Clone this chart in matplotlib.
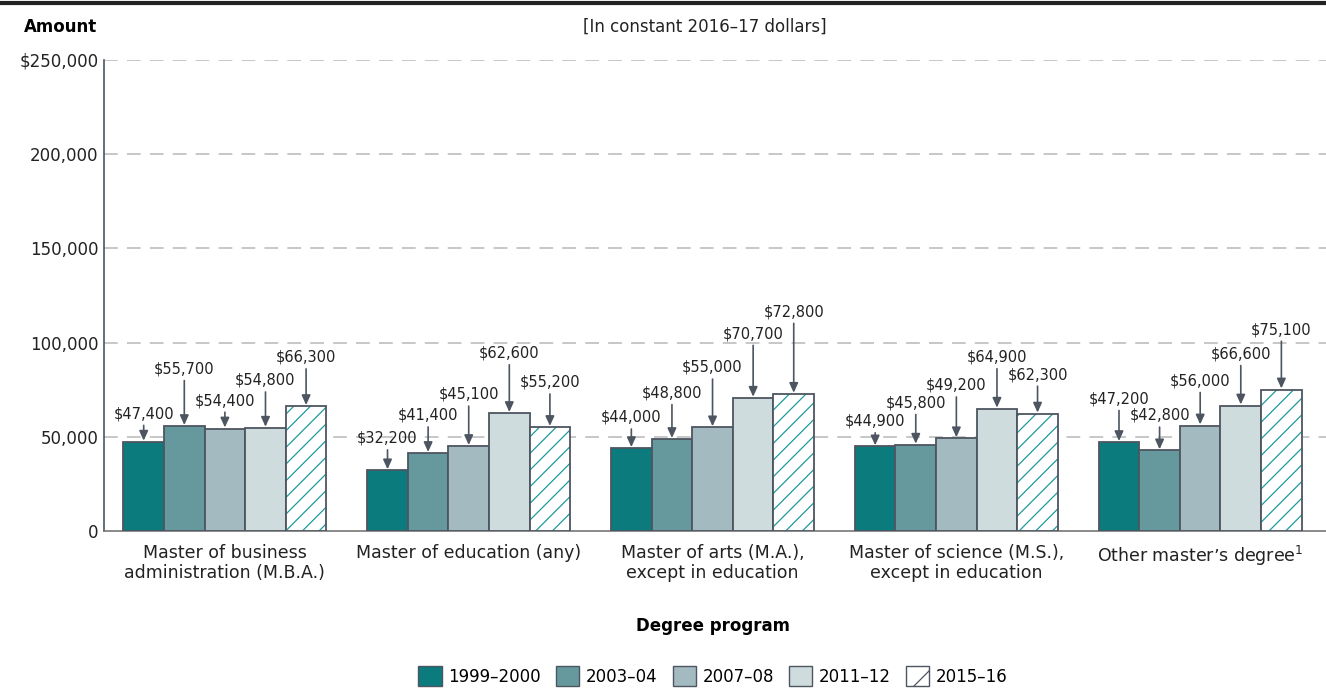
#!/usr/bin/env python3

import numpy
import matplotlib
matplotlib.use("Agg")
import matplotlib.pyplot as plt
from matplotlib.patches import Patch

#-------------------------------------------------------------
# data
programs = ["Master of business\nadministration (M.B.A.)",
            "Master of education (any)",
            "Master of arts (M.A.),\nexcept in education",
            "Master of science (M.S.),\nexcept in education",
            "Other master\u2019s degree$^{1}$"]
years = ["1999\u20132000", "2003\u201304", "2007\u201308", "2011\u201312", "2015\u201316"]

y1999 = [47400, 32200, 44000, 44900, 47200]
y2003 = [55700, 41400, 48800, 45800, 42800]
y2007 = [54400, 45100, 55000, 49200, 56000]
y2011 = [54800, 62600, 70700, 64900, 66600]
y2015 = [66300, 55200, 72800, 62300, 75100]

yticks = [0, 50000, 100000, 150000, 200000, 250000]
ytick_labels = ["0", "50,000", "100,000", "150,000", "200,000", "$250,000"]

# label lift above bar top (points), per program then per year
lift = [[14, 35, 14, 28, 29],
        [17, 21, 31, 37, 26],
        [16, 27, 37, 40, 53],
        [12, 24, 32, 31, 22],
        [25, 19, 26, 31, 37]]

colors = ["#0b7b7d", "#65999e", "#a3bbc0", "#cfdcdd", "white"]
edge = "#4d5560"
hatch_color = "#1f9a9c"

#-------------------------------------------------------------
def main():
    plt.rcParams['font.family'] = ['DejaVu Sans']
    plt.rcParams['hatch.linewidth'] = 0.9

    fig = plt.figure(figsize=(13.26, 6.88), dpi=100)
    ax = fig.add_axes([0.0784, 0.228, 0.9216, 0.685])

    series = [y1999, y2003, y2007, y2011, y2015]
    x = numpy.arange(len(programs))
    w = 0.1665

    for k, vals in enumerate(series):
        pos = x + (k - 2) * w
        if k == 4:
            ax.bar(pos, vals, w, color="white", edgecolor=hatch_color,
                   hatch="//", linewidth=0, zorder=3)
            ax.bar(pos, vals, w, color="none", edgecolor=edge,
                   linewidth=1.3, zorder=4)
        else:
            ax.bar(pos, vals, w, color=colors[k], edgecolor=edge,
                   linewidth=1.3, zorder=3)
        for i, v in enumerate(vals):
            ax.annotate("${:,}".format(v), xy=(pos[i], v + 600),
                        xytext=(0, lift[i][k]), textcoords="offset points",
                        ha="center", va="bottom", fontsize=10.5, color="#222222",
                        arrowprops=dict(arrowstyle="-|>,head_width=0.25,head_length=0.55",
                                        color=edge, lw=1.2, shrinkA=1, shrinkB=0),
                        zorder=5)

    ax.set_xlim(-0.496, 4.516)
    ax.set_ylim(0, 250000)
    ax.set_yticks(yticks)
    ax.set_yticklabels(ytick_labels, fontsize=12, color="#222222")
    ax.set_xticks(x)
    ax.set_xticklabels(programs, fontsize=12.5, color="#222222", va="top")
    ax.tick_params(axis="x", length=0, pad=9)
    ax.tick_params(axis="y", length=0, pad=4)

    for t in yticks[1:]:
        ax.axhline(t, color="#b8b8b8", lw=1.1, dashes=(9, 6), zorder=1)

    for s in ["top", "right"]:
        ax.spines[s].set_visible(False)
    ax.spines["left"].set_color(edge)
    ax.spines["left"].set_linewidth(1.2)
    ax.spines["bottom"].set_color("#777777")
    ax.spines["bottom"].set_linewidth(1.2)

    # header
    fig.add_artist(plt.Line2D([0, 1], [0.995, 0.995], color="#222222", lw=3,
                              transform=fig.transFigure))
    fig.text(24 / 1326, 1 - 27 / 688, "Amount", fontsize=12, fontweight="bold",
             ha="left", va="center")
    fig.text(705 / 1326, 1 - 27 / 688, "[In constant 2016\u201317 dollars]",
             fontsize=12, ha="center", va="center", color="#222222")
    fig.text(713 / 1326, 1 - 626 / 688, "Degree program", fontsize=12,
             fontweight="bold", ha="center", va="center")

    handles = []
    for k in range(5):
        if k == 4:
            handles.append(Patch(facecolor="white", edgecolor=edge, hatch="/",
                                 linewidth=1.0, label=years[k]))
        else:
            handles.append(Patch(facecolor=colors[k], edgecolor=edge,
                                 linewidth=1.0, label=years[k]))
    fig.legend(handles=handles, loc="center", bbox_to_anchor=(713 / 1326, 1 - 676 / 688),
               ncol=5, frameon=False, fontsize=12, handlelength=1.4,
               handleheight=1.4, handletextpad=0.4, columnspacing=0.9)

    fig.savefig("out.png", dpi=100)
    plt.close(fig)

#-------------------------------------------------------------
if __name__ == "__main__":
    main()
